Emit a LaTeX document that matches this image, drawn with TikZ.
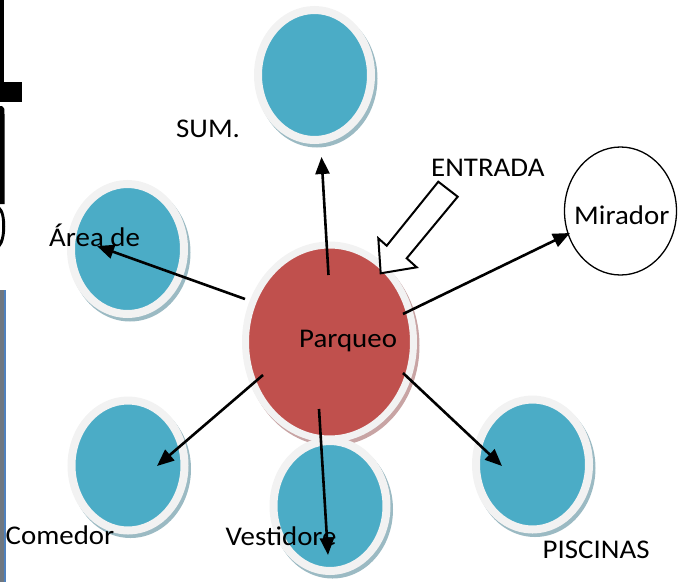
\documentclass[tikz,border=0pt]{standalone}
\usepackage{fontspec}
\setmainfont{Carlito}[FakeStretch=1.07]
\usetikzlibrary{arrows.meta,shapes.geometric}
\definecolor{cblue}{HTML}{4BACC6}
\definecolor{cred}{HTML}{C0504D}
\definecolor{cring}{HTML}{F2F2F2}
\definecolor{bshadow}{HTML}{9BBAC3}
\definecolor{rshadow}{HTML}{C8A4A4}
\definecolor{edgegrey}{HTML}{6F7780}
\definecolor{edgeblue}{HTML}{4F81BD}
\tikzset{
  bubble/.style={ellipse, inner sep=0pt, minimum width=113pt, minimum height=130pt,
    draw=cring, line width=8pt, fill=cblue},
  bshad/.style={ellipse, inner sep=0pt, minimum width=121pt, minimum height=138pt,
    fill=bshadow},
  lbl/.style={anchor=base west, inner sep=0pt, font=\fontsize{27}{30}\selectfont},
  arr/.style={line width=2.6pt, -{Triangle[length=17pt,width=14pt]}},
  entr/.style={draw=black, line width=2pt, fill=white, line join=miter}
}
\begin{document}
\begin{tikzpicture}[x=1pt,y=-1pt]
\useasboundingbox (0,0) rectangle (678,582);
% left-edge fragments
\fill[black] (0,0) rectangle (4,83);
\fill[black] (0,82) rectangle (22,102);
\fill[black] (0,106) -- (2,106) .. controls (4.5,108) .. (4.5,114) -- (4.5,204) -- (0,204) -- cycle;
\fill[black] (0,207) .. controls (7,212) and (7,240) .. (0,247) -- (0,241) .. controls (3,236) and (3,216) .. (0,212) -- cycle;
\fill[edgegrey] (0,290) rectangle (3.5,582);
\fill[edgeblue] (3.5,290) rectangle (5.5,582);
% shadows
\node[bshad] (shsum) at (317,78.5) {};
\node[bshad] (sharea) at (130,252.5) {};
\node[bshad] (shcom) at (130.5,469) {};
\node[bshad] (shves) at (332.5,509.5) {};
\node[bshad] (shpis) at (535,468) {};
\node[ellipse, inner sep=0pt, minimum width=175pt, minimum height=201pt, fill=rshadow] (shpark) at (332,345.5) {};
% bubbles
\node[bubble] (sum) at (314.5,75) {};
\node[bubble] (area) at (127.5,249) {};
\node[bubble] (com) at (128,465.5) {};
\node[bubble] (pis) at (532.5,464.5) {};
\node[ellipse, inner sep=0pt, minimum width=168pt, minimum height=194pt, draw=cring, line width=7pt, fill=cred] (park) at (329.5,342) {};
\node[bubble] (ves) at (330,506) {};
\node[ellipse, inner sep=0pt, minimum width=112pt, minimum height=128pt, draw=black, line width=1.3pt, fill=white] (mir) at (620.5,211) {};
% entrada block arrow
\draw[entr] (380.7,273.3) -- (378.3,238.3) -- (386.7,245.7) -- (438.3,181.7) -- (457.7,196.7) -- (406.7,258.3) -- (416.7,267.3) -- cycle;
% labels
\node[lbl] (tsum) at (176,137) {SUM.};
\node[lbl] (tentr) at (431,176.5) {ENTRADA};
\node[lbl] (tarea) at (49,246) {Área de};
\node[lbl] (tpark) at (299,347) {Parqueo};
\node[lbl] (tmir) at (574,224) {Mirador};
\node[lbl] (tcom) at (5.5,544) {Comedor};
\node[lbl] (tves) at (225.5,545) {Vestidore};
\node[lbl] (tpis) at (542.5,558) {PISCINAS};
% connectors
\coordinate (s1) at (328.5,275); \coordinate (e1) at (321.5,157);
\coordinate (s2) at (245,299);   \coordinate (e2) at (97,246);
\coordinate (s3) at (403,314);   \coordinate (e3) at (570,233);
\coordinate (s4) at (263,375);   \coordinate (e4) at (157,466);
\coordinate (s5) at (319,409);   \coordinate (e5) at (328,555);
\coordinate (s6) at (403,373);   \coordinate (e6) at (502,466);
\draw[arr] (s1) -- (e1);
\draw[arr] (s2) -- (e2);
\draw[arr] (s3) -- (e3);
\draw[arr] (s4) -- (e4);
\draw[arr] (s5) -- (e5);
\draw[arr] (s6) -- (e6);
\end{tikzpicture}
\end{document}
